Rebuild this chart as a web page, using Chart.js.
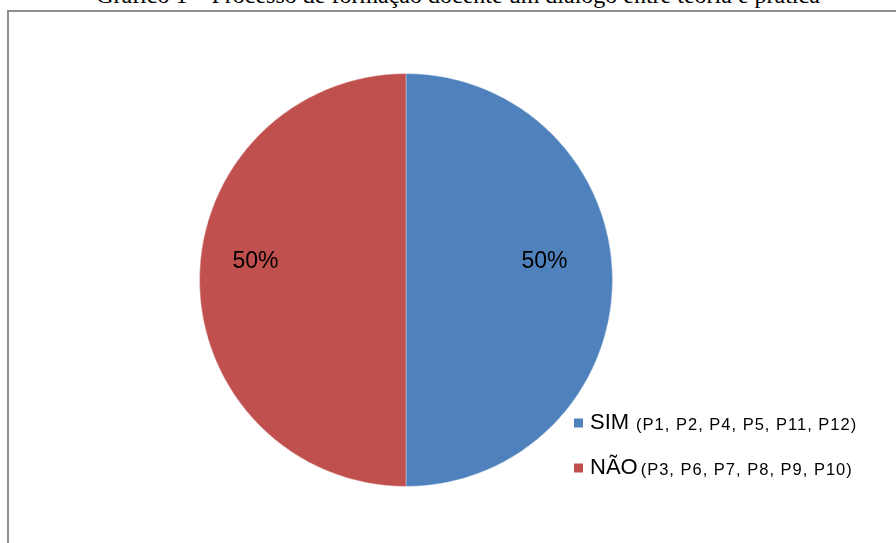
<!DOCTYPE html>
<html>
<head>
<meta charset="utf-8">
<script src="https://cdn.jsdelivr.net/npm/chart.js@4"></script>
<style>
  html, body { margin:0; padding:0; background:#fff; }
  #wrap { position:relative; width:896px; height:543px; overflow:hidden; }
  #frame { position:absolute; left:7px; top:10px; width:900px; height:600px; border-left:2px solid #8f8f8f; border-top:2px solid #8f8f8f; box-sizing:border-box; }
  #title { position:absolute; left:0; width:916px; top:-18px; text-align:center; font-family:"Liberation Serif","Times New Roman",serif; font-size:24px; color:#000; white-space:nowrap; }
  canvas { position:absolute; left:0; top:0; }
</style>
</head>
<body>
<div id="wrap">
  <div id="frame"></div>
  <div id="title">Gráfico 1 – Processo de formação docente um diálogo entre teoria e prática</div>
  <canvas id="c" width="896" height="543"></canvas>
</div>
<script>
const categories = ["SIM", "NÃO"];
const categoryDetails = ["(P1, P2, P4, P5, P11, P12)", "(P3, P6, P7, P8, P9, P10)"];
const values = [50, 50];
const percentLabels = ["50%", "50%"];
const colors = ["#4F81BD", "#C0504D"];

const labelPlugin = {
  id: 'pctLabels',
  afterDatasetsDraw(chart) {
    const ctx = chart.ctx;
    const meta = chart.getDatasetMeta(0);
    ctx.save();
    ctx.font = '23px "Liberation Sans", Arial, sans-serif';
    ctx.fillStyle = '#000';
    ctx.textAlign = 'center';
    ctx.textBaseline = 'middle';
    meta.data.forEach((arc, i) => {
      const p = arc.getProps(['x','y','startAngle','endAngle','outerRadius'], true);
      const mid = (p.startAngle + p.endAngle) / 2;
      const r = p.outerRadius * 0.7;
      ctx.fillText(percentLabels[i], p.x + Math.cos(mid) * r - 6, p.y + Math.sin(mid) * r - 18);
    });
    ctx.restore();
  }
};

const legendPlugin = {
  id: 'mixedLegend',
  afterDraw(chart) {
    const ctx = chart.ctx;
    const x0 = 574, y0 = 423, rowH = 45, box = 9;
    ctx.save();
    ctx.textBaseline = 'middle';
    ctx.textAlign = 'left';
    categories.forEach((c, i) => {
      const y = y0 + i * rowH;
      ctx.fillStyle = colors[i];
      ctx.fillRect(x0, y - box / 2, box, box);
      ctx.fillStyle = '#000';
      ctx.font = '22px "Liberation Sans", Arial, sans-serif';
      if ('letterSpacing' in ctx) ctx.letterSpacing = '0px';
      ctx.fillText(c, x0 + 16, y);
      const w = ctx.measureText(c).width;
      ctx.font = '16.5px "Liberation Sans", Arial, sans-serif';
      if ('letterSpacing' in ctx) ctx.letterSpacing = '1px';
      ctx.fillText(categoryDetails[i], x0 + 16 + w + (i === 0 ? 7 : 3), y + 2);
    });
    ctx.restore();
  }
};

new Chart(document.getElementById('c'), {
  type: 'pie',
  data: {
    labels: categories,
    datasets: [{
      data: values,
      backgroundColor: colors,
      borderColor: 'rgba(255,255,255,0.35)',
      borderWidth: 1
    }]
  },
  options: {
    responsive: false,
    animation: false,
    layout: { padding: { top: 73, bottom: 56, left: 199, right: 283 } },
    plugins: {
      legend: { display: false },
      tooltip: { enabled: false },
      title: { display: false }
    }
  },
  plugins: [labelPlugin, legendPlugin]
});
</script>
</body>
</html>
